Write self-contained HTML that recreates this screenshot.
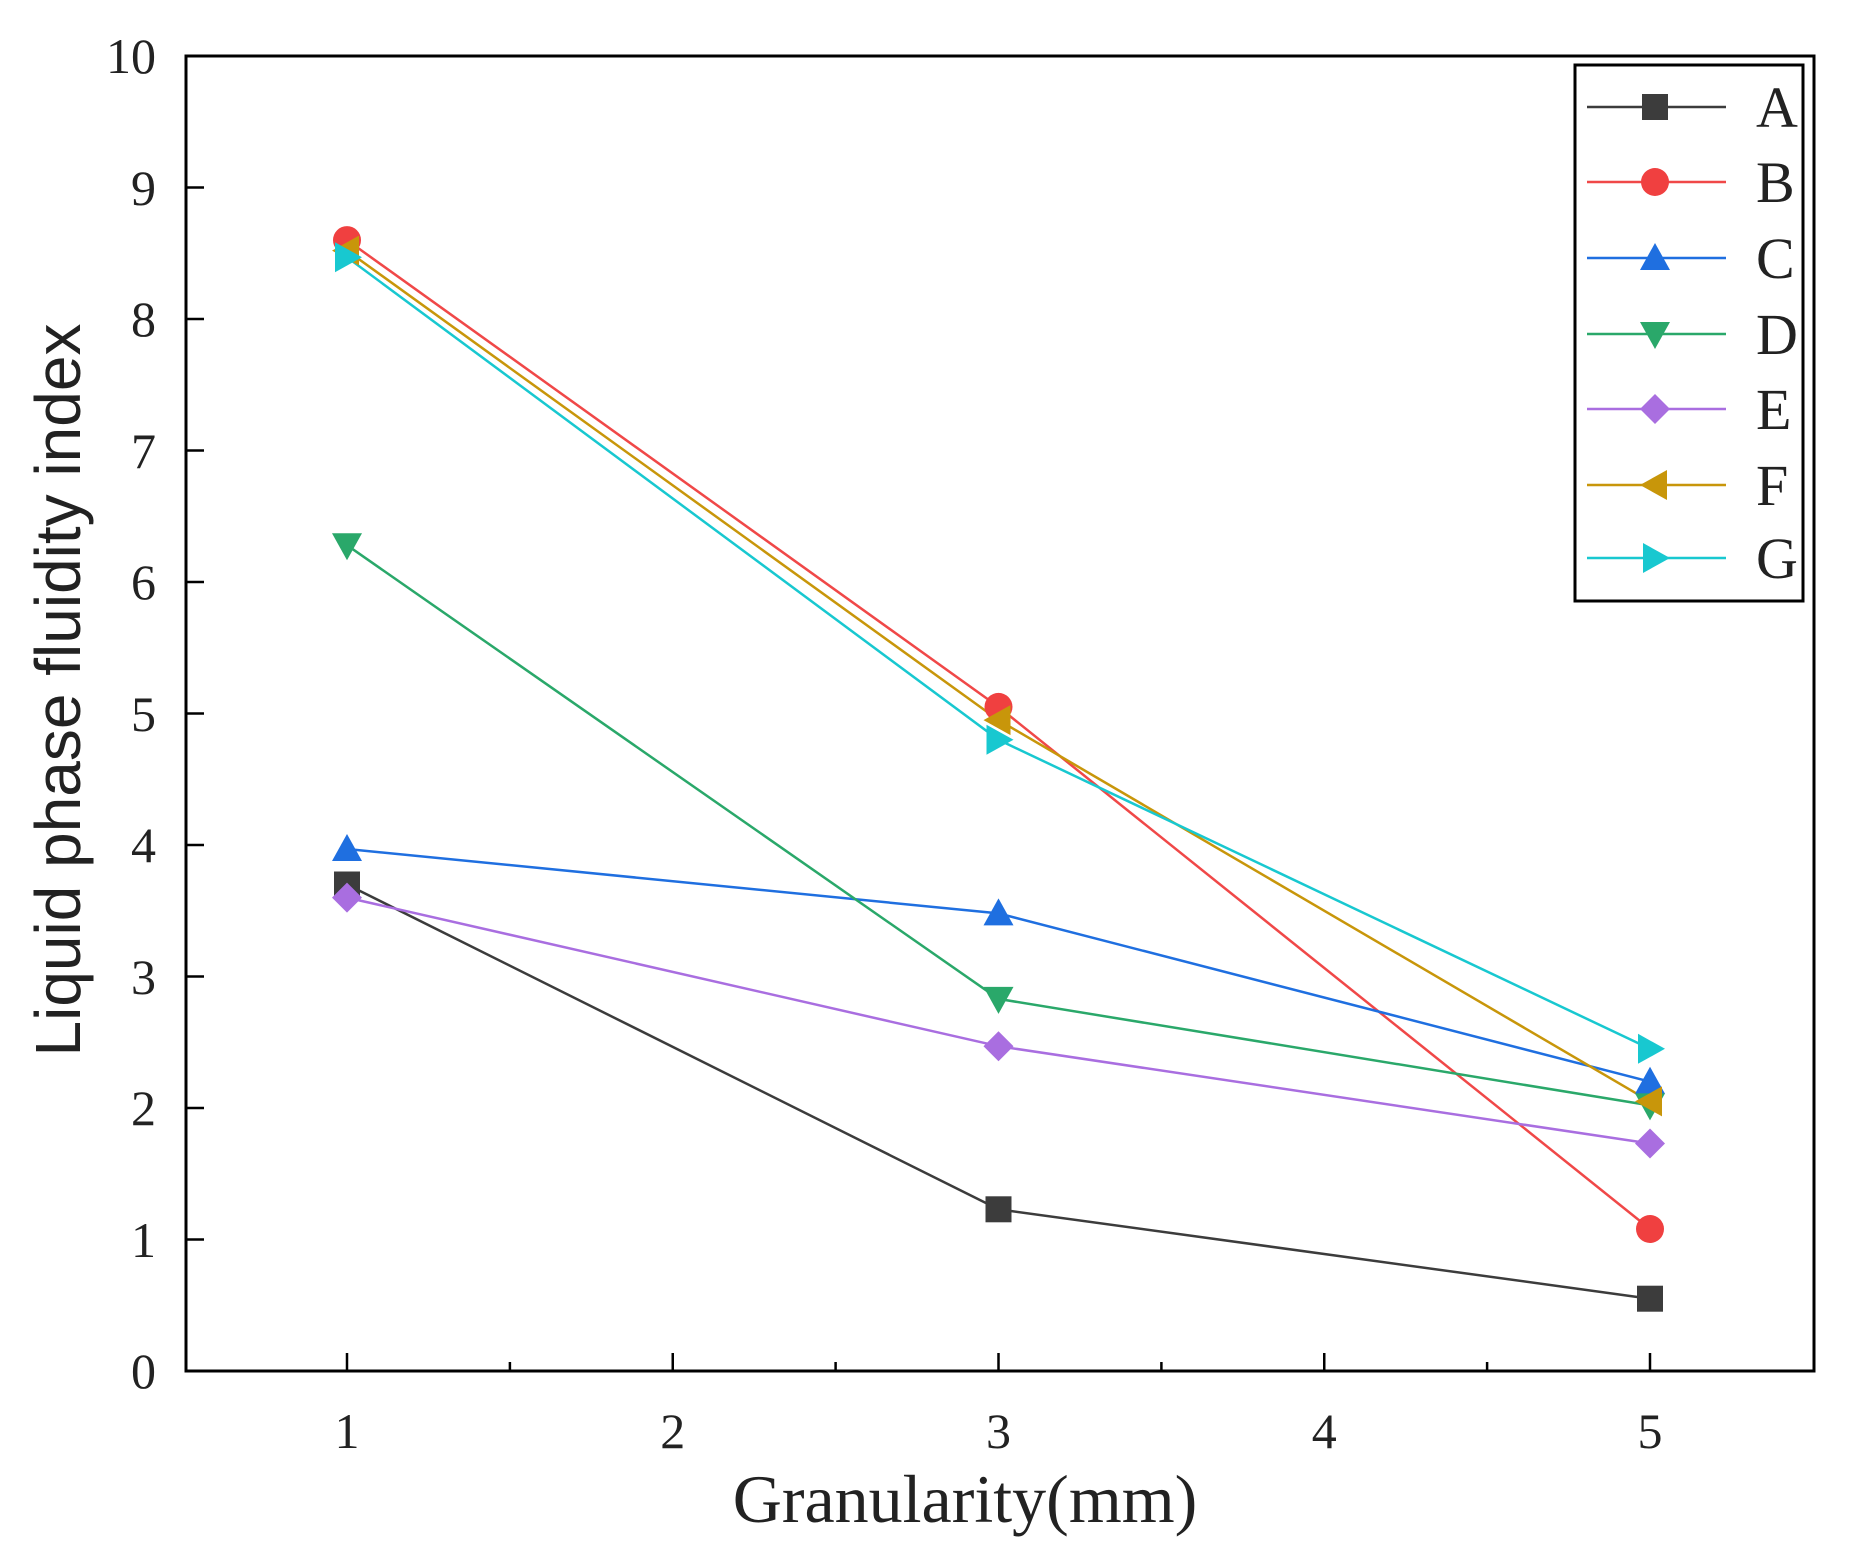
<!DOCTYPE html>
<html><head><meta charset="utf-8"><style>html,body{margin:0;padding:0;background:#fff}</style></head>
<body>
<svg width="1853" height="1551" viewBox="0 0 1853 1551" xmlns="http://www.w3.org/2000/svg" font-family="'Liberation Serif',serif">
<rect width="1853" height="1551" fill="#fff"/>
<rect x="186" y="56" width="1628" height="1315" fill="none" stroke="#000" stroke-width="3"/>
<g stroke="#000" stroke-width="2.5">
<line x1="347" y1="1371" x2="347" y2="1353"/><line x1="672.75" y1="1371" x2="672.75" y2="1353"/><line x1="998.5" y1="1371" x2="998.5" y2="1353"/><line x1="1324.25" y1="1371" x2="1324.25" y2="1353"/><line x1="1650" y1="1371" x2="1650" y2="1353"/>
<line x1="509.9" y1="1371" x2="509.9" y2="1362"/><line x1="835.6" y1="1371" x2="835.6" y2="1362"/><line x1="1161.4" y1="1371" x2="1161.4" y2="1362"/><line x1="1487.1" y1="1371" x2="1487.1" y2="1362"/>
<line x1="186" y1="1371" x2="204" y2="1371"/><line x1="186" y1="1239.5" x2="204" y2="1239.5"/><line x1="186" y1="1108" x2="204" y2="1108"/><line x1="186" y1="976.5" x2="204" y2="976.5"/><line x1="186" y1="845" x2="204" y2="845"/><line x1="186" y1="713.5" x2="204" y2="713.5"/><line x1="186" y1="582" x2="204" y2="582"/><line x1="186" y1="450.5" x2="204" y2="450.5"/><line x1="186" y1="319" x2="204" y2="319"/><line x1="186" y1="187.5" x2="204" y2="187.5"/><line x1="186" y1="56" x2="204" y2="56"/>
</g>
<g font-size="50" fill="#222" text-anchor="end">
<text x="156" y="1388">0</text><text x="156" y="1257">1</text><text x="156" y="1125">2</text><text x="156" y="994">3</text><text x="156" y="862">4</text><text x="156" y="731">5</text><text x="156" y="599">6</text><text x="156" y="468">7</text><text x="156" y="336">8</text><text x="156" y="205">9</text><text x="156" y="73">10</text>
</g>
<g font-size="50" fill="#222" text-anchor="middle">
<text x="347" y="1448">1</text><text x="672.75" y="1448">2</text><text x="998.5" y="1448">3</text><text x="1324.25" y="1448">4</text><text x="1650" y="1448">5</text>
</g>
<text x="965" y="1522" font-size="68" text-anchor="middle" fill="#222">Granularity(mm)</text>
<text transform="translate(80,690) rotate(-90)" font-size="64" text-anchor="middle" fill="#222" font-family="'Liberation Sans',sans-serif">Liquid phase fluidity index</text>
<defs>
<rect id="sq" x="-13" y="-13" width="26" height="26"/>
<circle id="ci" r="14"/>
<polygon id="tu" points="0,-15 15,12 -15,12"/>
<polygon id="td" points="0,15 15,-12 -15,-12"/>
<polygon id="di" points="0,-15 15,0 0,15 -15,0"/>
<polygon id="tl" points="-15,0 12,-15 12,15"/>
<polygon id="tr" points="15,0 -12,-15 -12,15"/>
</defs>
<g fill="none" stroke-width="2.5">
<polyline stroke="#3c3c3c" points="347,884.5 998.5,1209.3 1650,1298.7"/>
<polyline stroke="#f04848" points="347,240.1 998.5,706.9 1650,1229"/>
<polyline stroke="#1f6fe0" points="347,849 998.5,913.4 1650,1081.7"/>
<polyline stroke="#2aa86a" points="347,545.2 998.5,998.9 1650,1105.4"/>
<polyline stroke="#a96ee0" points="347,897.6 998.5,1046.2 1650,1143.5"/>
<polyline stroke="#c8960a" points="347,250.6 998.5,720.1 1650,1101.4"/>
<polyline stroke="#18c8d0" points="347,257.2 998.5,739.8 1650,1048.8"/>
</g>
<g fill="#3c3c3c"><use href="#sq" x="347" y="884.5"/><use href="#sq" x="998.5" y="1209.3"/><use href="#sq" x="1650" y="1298.7"/></g>
<g fill="#f04040"><use href="#ci" x="347" y="240.1"/><use href="#ci" x="998.5" y="706.9"/><use href="#ci" x="1650" y="1229"/></g>
<g fill="#1f6fe0"><use href="#tu" x="347" y="849"/><use href="#tu" x="998.5" y="913.4"/><use href="#tu" x="1650" y="1081.7"/></g>
<g fill="#2aa86a"><use href="#td" x="347" y="545.2"/><use href="#td" x="998.5" y="998.9"/><use href="#td" x="1650" y="1105.4"/></g>
<g fill="#a96ee0"><use href="#di" x="347" y="897.6"/><use href="#di" x="998.5" y="1046.2"/><use href="#di" x="1650" y="1143.5"/></g>
<g fill="#c8960a"><use href="#tl" x="347" y="250.6"/><use href="#tl" x="998.5" y="720.1"/><use href="#tl" x="1650" y="1101.4"/></g>
<g fill="#18c8d0"><use href="#tr" x="347" y="257.2"/><use href="#tr" x="998.5" y="739.8"/><use href="#tr" x="1650" y="1048.8"/></g>
<rect x="1575" y="65" width="228" height="536" fill="#fff" stroke="#000" stroke-width="3"/>
<g stroke-width="2.5">
<line x1="1587" x2="1726" y1="107" y2="107" stroke="#3c3c3c"/><use href="#sq" x="1655" y="107" fill="#3c3c3c"/>
<line x1="1587" x2="1726" y1="182" y2="182" stroke="#f04848"/><use href="#ci" x="1655" y="182" fill="#f04040"/>
<line x1="1587" x2="1726" y1="258" y2="258" stroke="#1f6fe0"/><use href="#tu" x="1655" y="258" fill="#1f6fe0"/>
<line x1="1587" x2="1726" y1="334" y2="334" stroke="#2aa86a"/><use href="#td" x="1655" y="334" fill="#2aa86a"/>
<line x1="1587" x2="1726" y1="409" y2="409" stroke="#a96ee0"/><use href="#di" x="1655" y="409" fill="#a96ee0"/>
<line x1="1587" x2="1726" y1="485" y2="485" stroke="#c8960a"/><use href="#tl" x="1655" y="485" fill="#c8960a"/>
<line x1="1587" x2="1726" y1="558" y2="558" stroke="#18c8d0"/><use href="#tr" x="1655" y="558" fill="#18c8d0"/>
</g>
<g font-size="58" fill="#222">
<text x="1756" y="127">A</text><text x="1756" y="202">B</text><text x="1756" y="278">C</text><text x="1756" y="354">D</text><text x="1756" y="429">E</text><text x="1756" y="505">F</text><text x="1756" y="578">G</text>
</g>
</svg>
</body></html>
